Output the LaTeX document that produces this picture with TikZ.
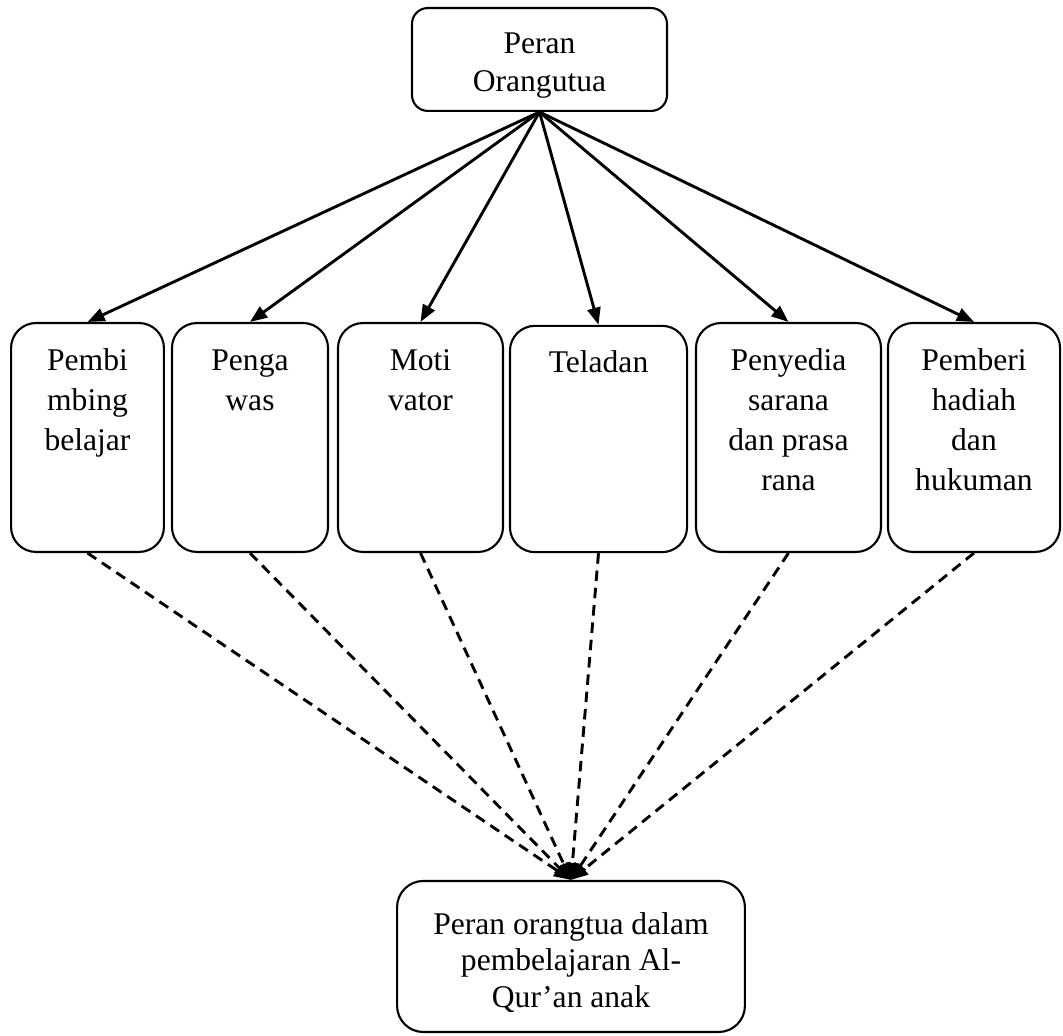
\documentclass[tikz,border=0pt]{standalone}
\usepackage{fontspec}
\setmainfont{Liberation Serif}
\usetikzlibrary{arrows.meta}

% width, height, first baseline, lines
\newcommand{\boxtext}[4]{\parbox[c][#2][t]{#1}{\centering\rule{0pt}{#3}#4}}

\begin{document}
\begin{tikzpicture}[x=0.38pt,y=-0.38pt,
  roundbox/.style={draw,line width=0.8pt,inner sep=0pt,rounded corners=9.5pt},
  rolefont/.style={font=\fontsize{12}{15.2}\selectfont},
  solidarrow/.style={-{Triangle[length=6.5pt,width=5pt]},line width=1.1pt},
  dasharrow/.style={solidarrow,dash pattern=on 4pt off 2.6pt}]
\useasboundingbox (0,0) rectangle (1063,1036);
% Top
\node[roundbox,rounded corners=6pt,font=\fontsize{12}{14.6}\selectfont] (peran) at (539.5,59.5)
  {\boxtext{96.9pt}{39.1pt}{17.1pt}{Peran\\Orangutua}};
% Roles
\node[roundbox,rolefont] (bimbing) at (87.5,437.5) {\boxtext{58.1pt}{87pt}{18.2pt}{Pembi\\mbing\\belajar}};
\node[roundbox,rolefont] (awas) at (250,437.5) {\boxtext{59.3pt}{87pt}{18.2pt}{Penga\\was}};
\node[roundbox,rolefont] (motivasi) at (420.5,437.5) {\boxtext{62.7pt}{87pt}{18.2pt}{Moti\\vator}};
\node[roundbox,rolefont] (teladan) at (598.5,439) {\boxtext{67.3pt}{86pt}{17.6pt}{Teladan}};
\node[roundbox,rolefont] (sarana) at (788.5,437.5) {\boxtext{70.3pt}{87pt}{18.2pt}{Penyedia\\sarana\\dan prasa\\rana}};
\node[roundbox,rolefont] (hadiah) at (974,437.5) {\boxtext{65.4pt}{87pt}{18.2pt}{Pemberi\\hadiah\\dan\\hukuman}};
% Bottom
\node[roundbox,rounded corners=10pt,font=\fontsize{12}{13.7}\selectfont] (alquran) at (571,956.5)
  {\boxtext{132.2pt}{57.4pt}{20.5pt}{Peran orangtua dalam\\pembelajaran Al-\\Qur’an anak}};
% Arrows
\foreach \r in {bimbing,awas,motivasi,teladan,sarana,hadiah}{
  \draw[solidarrow] (peran.south) -- (\r.north);
  \draw[dasharrow] (\r.south) -- (alquran.north);
}
\end{tikzpicture}
\end{document}
